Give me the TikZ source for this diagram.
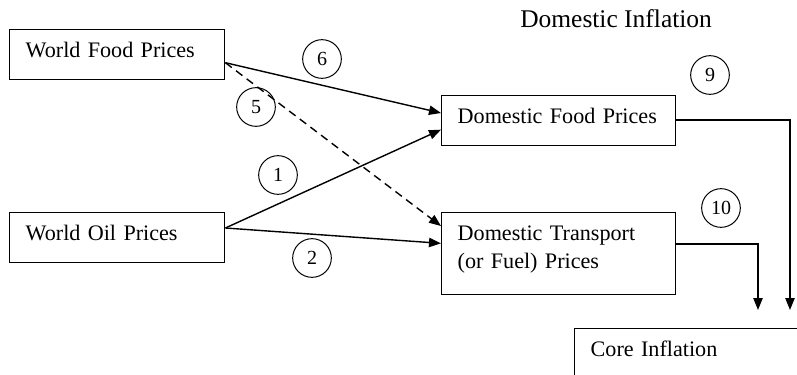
\documentclass[tikz,border=0pt]{standalone}
\usepackage{fontspec}
\setmainfont{Liberation Serif}
\usetikzlibrary{arrows.meta}
\begin{document}
\begin{tikzpicture}[x=0.75pt,y=-0.75pt,
  boxnode/.style={draw, line width=1.05pt, rectangle, anchor=north west, inner xsep=12pt, inner ysep=0pt,
    align=left, font=\fontsize{16.6}{21}\selectfont, text height=21pt, text depth=16.5pt},
  numcirc/.style={draw, circle, line width=0.75pt, minimum size=29pt, inner sep=0pt, font=\fontsize{15}{15}\selectfont},
  arr/.style={line width=1.05pt, -{Triangle[length=9pt,width=7pt]}},
  conn/.style={line width=1.05pt}]
\useasboundingbox (0,0) rectangle (797,375);
% title
\node[anchor=base west, inner sep=0pt, font=\fontsize{19.1}{22}\selectfont] (title) at (520,27) {Domestic Inflation};
% boxes
\node[boxnode, text width=137.25pt] (wf) at (9,29) {World Food Prices};
\node[boxnode, text width=137.25pt] (wo) at (9,212) {World Oil Prices};
\node[boxnode, text width=151.5pt] (df) at (441,95) {Domestic Food Prices};
\node[boxnode, text width=151.5pt, text depth=40.5pt] (dt) at (441,212) {Domestic Transport\\[-0.5pt](or Fuel) Prices};
\begin{scope}
\clip (0,0) rectangle (797,375);
\node[boxnode, text width=220pt, text depth=30pt] (ci) at (574,328) {Core Inflation};
\end{scope}
% connectors
\draw[arr] ([yshift=-6pt]wf.east) -- ([yshift=-13.5pt]df.north west);
\draw[arr, dash pattern=on 6pt off 4pt] ([yshift=-6pt]wf.east) -- ([yshift=-10.5pt]dt.north west);
\draw[arr] ([yshift=-12pt]wo.north east) -- ([yshift=-26pt]df.north west);
\draw[arr] ([yshift=-12pt]wo.north east) -- ([yshift=-23.5pt]dt.north west);
\coordinate (c9) at (790,310);
\coordinate (c10) at (758,310);
\draw[arr] ([yshift=-18.75pt]df.north east) -| (c9);
\draw[arr] ([yshift=-24pt]dt.north east) -| (c10);
% numbers
\node[numcirc] (n6) at (322,59) {6};
\node[numcirc] (n5) at (256,107) {5};
\node[numcirc] (n1) at (278,175) {1};
\node[numcirc] (n2) at (312,258) {2};
\node[numcirc] (n9) at (710,75) {9};
\node[numcirc] (n10) at (721,208) {10};
\end{tikzpicture}
\end{document}
